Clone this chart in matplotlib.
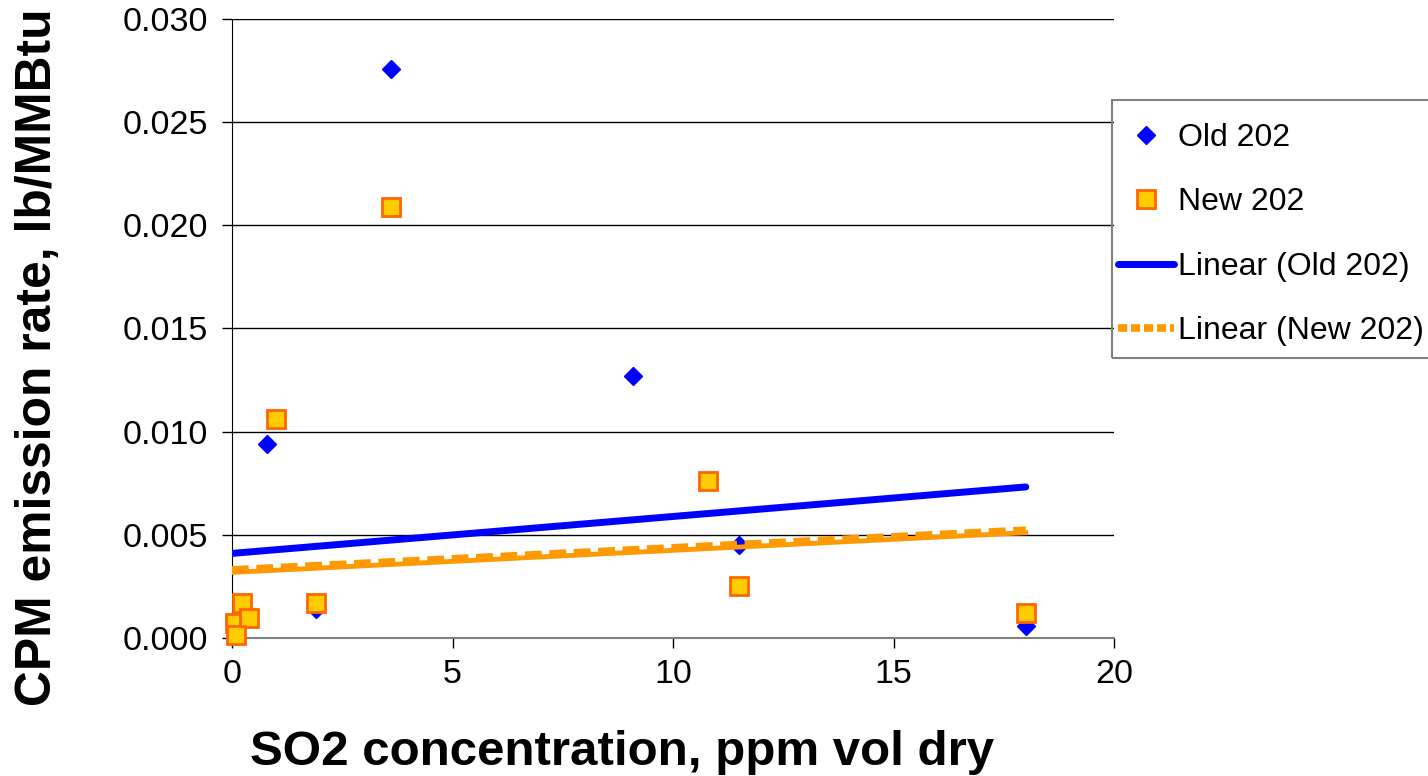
import matplotlib
matplotlib.use('Agg')
import matplotlib.pyplot as plt
import matplotlib.transforms as mtransforms
from matplotlib.lines import Line2D
from matplotlib.patches import Rectangle
import numpy as np

plt.rcParams['font.family'] = ['Liberation Sans', 'DejaVu Sans']

# ── Data ─────────────────────────────────────────────────────────────────────
old_x = [0.07, 0.22, 0.39, 0.10, 0.8, 1.9, 3.6, 9.1, 11.5, 18.0]
old_y = [0.0008, 0.0015, 0.0010, 0.0002, 0.0094, 0.0014, 0.0276, 0.0127, 0.0045, 0.0006]

new_x = [0.07, 0.22, 0.39, 0.10, 1.0, 1.9, 3.6, 10.8, 11.5, 18.0]
new_y = [0.00074, 0.0017, 0.00095, 0.00015, 0.0106, 0.0017, 0.0209, 0.0076, 0.0025, 0.0012]

# trendline coefficients (slope, intercept) as drawn in the reference
old_fit = (0.000179, 0.00410)
new_fit = (0.000107, 0.00330)
fit_range = (0.0, 18.0)

x_ticks = [0, 5, 10, 15, 20]
y_ticks = [0.000, 0.005, 0.010, 0.015, 0.020, 0.025, 0.030]

BLUE = '#0000FF'
ORANGE = '#FF9900'
SQ_FACE = '#FFCC00'
SQ_EDGE = '#FF6600'

W, H = 1428, 776
fig = plt.figure(figsize=(W / 100, H / 100), dpi=100)
ax = fig.add_axes([232 / W, 138 / H, 882 / W, 619 / H])

for yt in y_ticks[1:]:
    ax.axhline(yt, color='black', linewidth=1.0, zorder=1)

ax.plot(old_x, old_y, linestyle='none', marker='D', markersize=9,
        color=BLUE, zorder=3, clip_on=False)
ax.plot(new_x, new_y, linestyle='none', marker='s', markersize=13.5,
        markerfacecolor=SQ_FACE, markeredgecolor=SQ_EDGE, markeredgewidth=2,
        zorder=4, clip_on=False)

tx = np.array(fit_range)
ax.plot(tx, old_fit[0] * tx + old_fit[1], color=BLUE, linewidth=5,
        solid_capstyle='round', zorder=5)
# square-dot trendline: solid base nudged down, dashed layer on top
shift = mtransforms.offset_copy(ax.transData, fig=fig, x=0, y=-2.5, units='dots')
ax.plot(tx, new_fit[0] * tx + new_fit[1], color=ORANGE, linewidth=3.5,
        transform=shift, zorder=5)
ax.plot(tx, new_fit[0] * tx + new_fit[1], color=ORANGE, linewidth=5.5,
        dashes=(2.2, 1.0), zorder=5)

ax.set_xlim(0, 20)
ax.set_ylim(0, 0.030)
ax.set_xticks(x_ticks)
ax.set_yticks(y_ticks)
ax.set_yticklabels([f'{v:.3f}' for v in y_ticks])
ax.tick_params(axis='both', labelsize=24.5, direction='out', length=7,
               width=1, color='black')
ax.tick_params(axis='x', pad=8)
ax.tick_params(axis='y', pad=10)

for s in ('top', 'right'):
    ax.spines[s].set_visible(False)
ax.spines['left'].set_color('black')
ax.spines['bottom'].set_color('#808080')
ax.spines['bottom'].set_linewidth(1.5)

ax.set_xlabel('SO2 concentration, ppm vol dry', fontsize=35.5,
              fontweight='bold')
ax.set_ylabel('CPM emission rate, lb/MMBtu', fontsize=35.8,
              fontweight='bold')
ax.xaxis.set_label_coords((622 - 232) / 882, (46 - 138) / 619)
ax.yaxis.set_label_coords((61 - 232) / 882, (419 - 138) / 619)

handles = [
    Line2D([], [], linestyle='none', marker='D', markersize=9, color=BLUE),
    Line2D([], [], linestyle='none', marker='s', markersize=13.5,
           markerfacecolor=SQ_FACE, markeredgecolor=SQ_EDGE, markeredgewidth=2),
    Line2D([], [], color=BLUE, linewidth=5, solid_capstyle='round'),
    Line2D([], [], color=ORANGE, linewidth=5.5, dashes=(1.2, 0.5)),
]
labels = ['Old 202', 'New 202', 'Linear (Old 202)', 'Linear (New 202)']
leg = fig.legend(handles, labels, loc='upper left',
                 bbox_to_anchor=(1118 / W, 1 - 123 / H),
                 fontsize=23, frameon=False, borderpad=0,
                 labelspacing=1.08, handlelength=1.75, handletextpad=0.12,
                 borderaxespad=0)
fig.patches.append(Rectangle((1112 / W, 1 - 358 / H), 330 / W, 258 / H,
                             transform=fig.transFigure, fill=False,
                             edgecolor='#808080', linewidth=1.5))

fig.savefig('out.png', dpi=100)
